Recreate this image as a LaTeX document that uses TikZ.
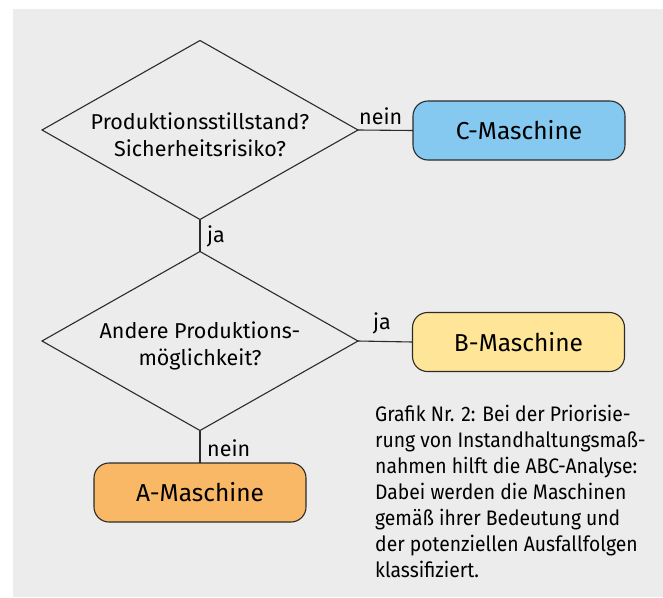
\documentclass[tikz,border=0pt]{standalone}
\usepackage{fontspec}
\setmainfont{Fira Sans}
\newfontfamily\capfont[FakeStretch=0.92]{Fira Sans}
\usetikzlibrary{shapes.geometric}
\definecolor{bggray}{HTML}{ECECEC}
\definecolor{cblue}{HTML}{85C9F0}
\definecolor{byellow}{HTML}{FEE597}
\definecolor{aorange}{HTML}{F8B865}
\definecolor{edge}{HTML}{2B2B2B}
\tikzset{
  decision/.style={diamond, draw=edge, line width=1.1pt, aspect=1.765,
    minimum width=316pt, minimum height=179pt, inner sep=0pt, outer sep=0pt},
  qtext/.style={align=center, inner sep=0pt, font=\fontsize{21.5}{27}\selectfont},
  machine/.style={draw=edge, line width=1.1pt, rounded corners=15pt,
    minimum width=212pt, minimum height=59pt, inner sep=0pt, outer sep=0pt,
    font=\fontsize{24.5}{29}\selectfont},
  lbl/.style={anchor=base west, inner sep=0pt, font=\fontsize{21.5}{26}\selectfont},
  conn/.style={draw=edge, line width=1.1pt},
  caption/.style={align=left, anchor=north west, inner sep=0pt,
    font=\capfont\fontsize{21}{26}\selectfont}
}
\begin{document}
\begin{tikzpicture}[x=1pt,y=-1pt]
\useasboundingbox (0,0) rectangle (663,597);
\fill[bggray] (13,9) rectangle (663,597);

\node[decision] (q1) at (200,130) {};
\node[qtext] (q1t) at (200,135) {Produktionsstillstand?\\Sicherheitsrisiko?};
\node[decision] (q2) at (200,341) {};
\node[qtext] (q2t) at (200,346) {Andere Produktions-\\möglichkeit?};

\node[machine, fill=cblue] (c) at (519,130.5) {C-Maschine};
\node[machine, fill=byellow] (b) at (518.5,342) {B-Maschine};
\node[machine, fill=aorange] (a) at (200,492.5) {A-Maschine};

\draw[conn] (q1.east) -- (c.west);
\draw[conn] (q1.south) -- (q2.north);
\draw[conn] (q2.east) -- (b.west);
\draw[conn] (q2.south) -- (a.north);

\node[lbl] (l1) at (359,124) {nein};
\node[lbl] (l2) at (207,242) {ja};
\node[lbl] (l3) at (373,329) {ja};
\node[lbl] (l4) at (207,456) {nein};

\node[caption] (cap) at (375,405) {Grafik Nr. 2: Bei der Priorisie-\\rung von Instandhaltungsmaß-\\nahmen hilft die ABC-Analyse:\\Dabei werden die Maschinen\\gemäß ihrer Bedeutung und\\der potenziellen Ausfallfolgen\\klassifiziert.};
\end{tikzpicture}
\end{document}
